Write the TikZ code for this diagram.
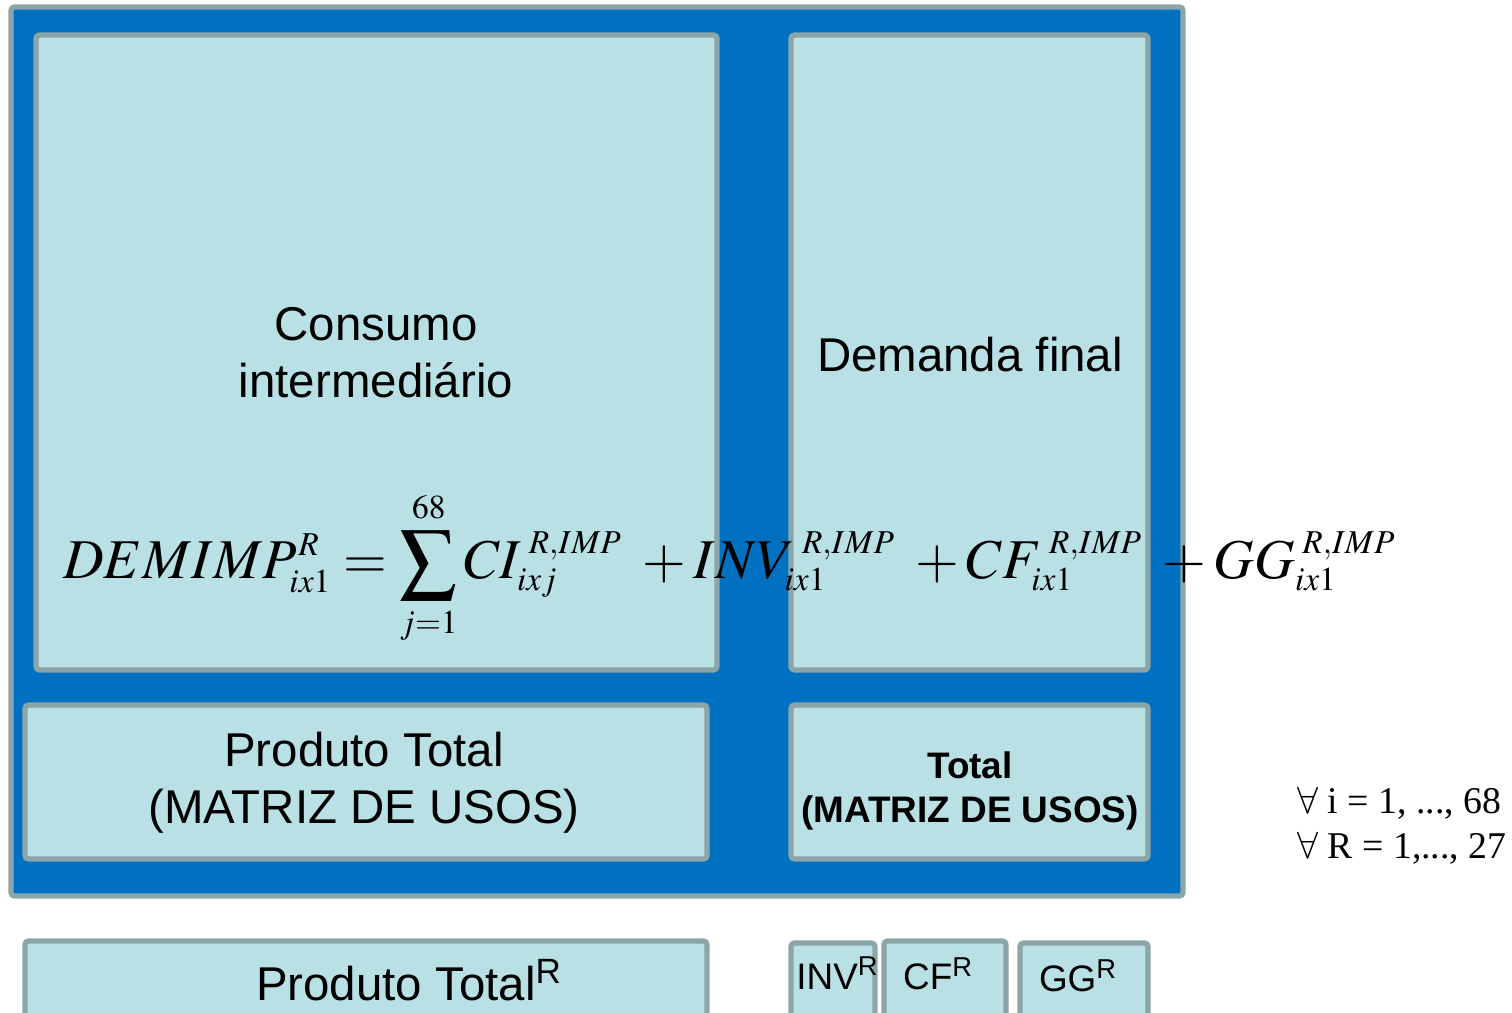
\documentclass[tikz,border=0pt]{standalone}
\usepackage{mathptmx}
\DeclareMathSizes{32}{32}{19}{14}
\usepackage[no-math]{fontspec}
\setmainfont{Liberation Sans}
\newfontfamily\timesf{Liberation Serif}
\usepackage{tikz}
\usetikzlibrary{fit}
\definecolor{cblue}{HTML}{0070C0}
\definecolor{cfill}{HTML}{B9E0E4}
\definecolor{cedge}{HTML}{8CA5A8}

\begin{document}
\begin{tikzpicture}[x=0.02cm,y=-0.02cm,
      font=\fontsize{27}{32.3}\selectfont,
      cell/.style={draw=cedge,fill=cfill,line width=3pt,rounded corners=2pt,
                   inner sep=0pt},
      frame/.style={cell,fill=cblue},
      txt/.style={align=center,inner sep=0pt},
      small/.style={txt,font=\fontsize{21}{25}\selectfont\bfseries},
      tag/.style={font=\fontsize{21}{25}\selectfont,inner sep=0pt},
      eqn/.style={font=\fontsize{32}{38}\selectfont,inner sep=0pt}]

    \clip (0,0) rectangle (1512,1013);

    % matriz de usos
    \node[frame,fit={(11,7) (1183,896)}] (usos) {};
    \node[cell,fit={(36,35) (717,670)}] (ci) {};
    \node[cell,fit={(791,35) (1148,670)}] (df) {};
    \node[cell,fit={(25,705) (707,859)}] (pt) {};
    \node[cell,fit={(791,705) (1148,859)}] (tot) {};
    \node[txt] (citxt) at (376,353) {Consumo\\intermedi\'ario};
    \node[txt] (dftxt) at (970,355) {Demanda final};
    \node[txt] (pttxt) at (364,783) {Produto Total\\(MATRIZ DE USOS)};
    \node[small] (tottxt) at (970,791) {Total\\(MATRIZ DE USOS)};

    % vetores regionais
    \node[cell,fit={(25,941) (707,1040)}] (ptR) {};
    \node[cell,fit={(791,943) (875,1040)}] (invR) {};
    \node[cell,fit={(884,941) (1006,1040)}] (cfR) {};
    \node[cell,fit={(1020,943) (1148,1040)}] (ggR) {};
    \node[inner sep=0pt] (ptRtxt) at (409,980) {Produto Total\textsuperscript{R}};
    \node[tag,anchor=west] (invRtxt) at (796,973) {INV\textsuperscript{R}};
    \node[tag] (cfRtxt) at (938,974) {CF\textsuperscript{R}};
    \node[tag] (ggRtxt) at (1078,976) {GG\textsuperscript{R}};

    % equacao
    \node[eqn,anchor=base west] (eq) at (63,579)
      {$\displaystyle DEMIMP^{\mkern1mu R}_{ix1}=\sum_{j=1}^{68} CI^{\mkern4mu R,IMP}_{ixj}
        \;+ INV^{\mkern4mu R,IMP}_{ix1}\;+ CF^{\mkern4mu R,IMP}_{ix1}\;+ GG^{\mkern4mu R,IMP}_{ix1}$};

    \node[anchor=west,align=left,inner sep=0pt,
          font=\fontsize{21.5}{25.5}\selectfont\timesf] (dom) at (1297,826)
      {$\forall$ i = 1, ..., 68\\$\forall$ R = 1,..., 27};
  \end{tikzpicture}
\end{document}
